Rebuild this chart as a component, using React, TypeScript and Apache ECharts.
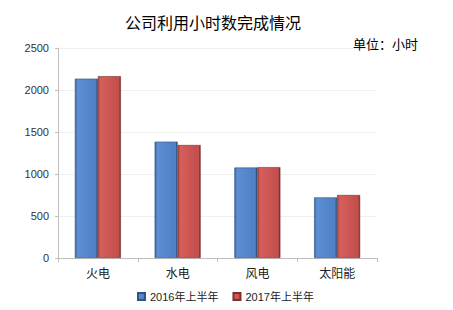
import React, { useEffect, useRef } from "react";
import * as echarts from "echarts";

const categories = ["火电", "水电", "风电", "太阳能"];
const series2016 = [2135, 1385, 1077, 722];
const series2017 = [2165, 1345, 1082, 750];
const seriesNames = ["2016年上半年", "2017年上半年"];
const yTicks = { min: 0, max: 2500, interval: 500 };

const FONT = "'Liberation Sans', 'Noto Sans CJK SC', sans-serif";

function barGradient(edgeL: string, light: string, mid: string, edgeR: string) {
  return new echarts.graphic.LinearGradient(0, 0, 1, 0, [
    { offset: 0, color: edgeL },
    { offset: 0.1, color: light },
    { offset: 0.8, color: mid },
    { offset: 0.92, color: mid },
    { offset: 1, color: edgeR },
  ]);
}

export default function App() {
  const ref = useRef<HTMLDivElement>(null);
  useEffect(() => {
    document.body.style.margin = "0";
    if (!ref.current) return;
    const chart = echarts.init(ref.current, undefined, { renderer: "svg" });
    const blue = barGradient("#35609a", "#5e8fd4", "#4f81c4", "#223c62");
    const red = barGradient("#9e4240", "#d65f5b", "#c4504d", "#652624");
    chart.setOption({
      animation: false,
      backgroundColor: "#ffffff",
      textStyle: { fontFamily: FONT },
      title: [
        {
          text: "公司利用小时数完成情况",
          left: 120,
          top: 9,
          textStyle: { fontSize: 16, fontWeight: "normal", color: "#000", fontFamily: "'Noto Sans CJK SC', sans-serif" },
        },
        {
          text: "单位：小时",
          left: 348,
          top: 32,
          textStyle: { fontSize: 13, fontWeight: "normal", color: "#000", fontFamily: "'Noto Sans CJK SC', sans-serif" },
        },
      ],
      legend: {
        data: seriesNames,
        left: 132,
        top: 286,
        itemWidth: 7,
        itemHeight: 7,
        itemGap: 14,
        icon: "rect",
        textStyle: { fontSize: 11, color: "#222", fontFamily: FONT },
      },
      grid: { left: 58, top: 48, right: 76, bottom: 52, containLabel: false },
      xAxis: {
        type: "category",
        data: categories,
        axisLine: { lineStyle: { color: "#bfbfbf" } },
        axisTick: { show: true, length: 4, lineStyle: { color: "#bfbfbf" } },
        axisLabel: { fontSize: 12, color: "#222", margin: 10, fontFamily: FONT },
      },
      yAxis: {
        type: "value",
        min: yTicks.min,
        max: yTicks.max,
        interval: yTicks.interval,
        axisLine: { show: true, lineStyle: { color: "#bfbfbf" } },
        axisTick: { show: true, length: 3, lineStyle: { color: "#bfbfbf" } },
        axisLabel: {
          fontSize: 11,
          color: "#333",
          margin: 9,
          fontFamily: FONT,
          formatter: (v: number) => String(v),
        },
        splitLine: { lineStyle: { color: "#f0f0f0" } },
      },
      series: [
        {
          name: seriesNames[0],
          type: "bar",
          data: series2016,
          barWidth: 23,
          barGap: "0%",
          itemStyle: { color: blue, borderColor: "#2f5587", borderWidth: 0.6 },
        },
        {
          name: seriesNames[1],
          type: "bar",
          data: series2017,
          barWidth: 23,
          barGap: "0%",
          itemStyle: { color: red, borderColor: "#7a302e", borderWidth: 0.6 },
        },
      ],
    });
    return () => chart.dispose();
  }, []);
  return <div ref={ref} style={{ width: 453, height: 310 }} />;
}
